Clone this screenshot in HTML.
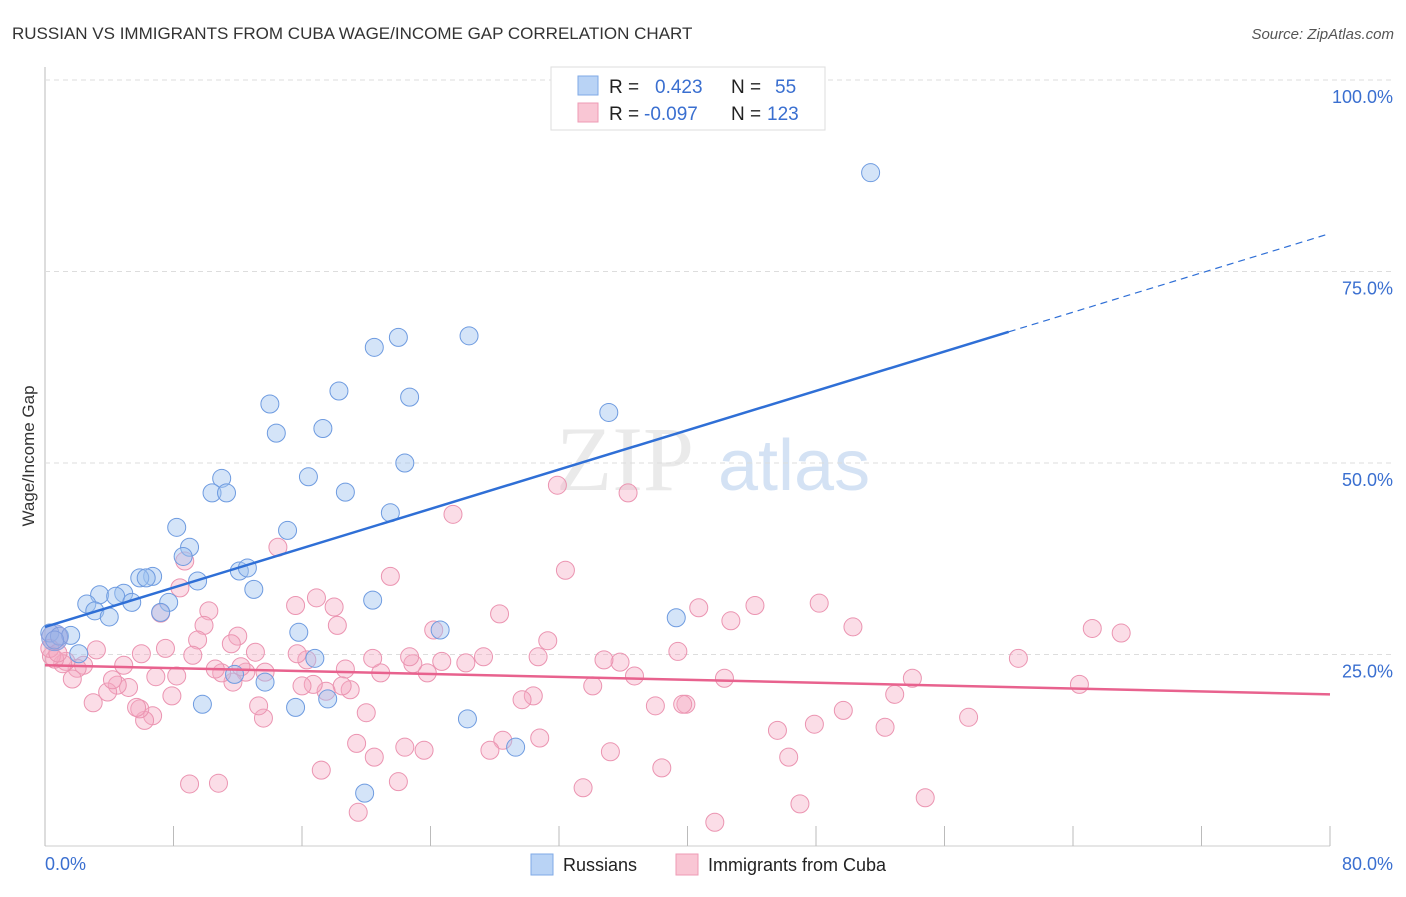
<!DOCTYPE html>
<html><head><meta charset="utf-8"><style>
body{margin:0;background:#fff;font-family:"Liberation Sans",sans-serif;}
</style></head><body>
<svg id="chart" width="1406" height="892" xmlns="http://www.w3.org/2000/svg" font-family="Liberation Sans, sans-serif">
<text x="12" y="39" font-size="17" fill="#333">RUSSIAN VS IMMIGRANTS FROM CUBA WAGE/INCOME GAP CORRELATION CHART</text>
<text x="1394" y="39" font-size="15" fill="#555" font-style="italic" text-anchor="end">Source: ZipAtlas.com</text>
<text x="556" y="490" font-size="92" fill="#ddd" font-family="Liberation Serif, serif" opacity="0.6">ZIP</text>
<text x="718" y="490" font-size="72" fill="#b8d0ee" opacity="0.6">atlas</text>
<g id="grid"></g>
<g id="points"></g>
<g id="lines"></g>
<text transform="translate(34,456) rotate(-90)" font-size="17" fill="#333" text-anchor="middle">Wage/Income Gap</text>
<g>
<rect x="551" y="67" width="274" height="63" fill="#fff" stroke="#ddd"/>
<rect x="578" y="76" width="20" height="19" fill="#b9d3f5" stroke="#7faae6"/>
<rect x="578" y="103" width="20" height="19" fill="#f9c6d4" stroke="#ee9bb5"/>
<text x="609" y="93" font-size="19" fill="#222">R =</text>
<text x="655" y="93" font-size="19" fill="#3a6fd0">0.423</text>
<text x="731" y="93" font-size="19" fill="#222">N =</text>
<text x="775" y="93" font-size="19" fill="#3a6fd0">55</text>
<text x="609" y="120" font-size="19" fill="#222">R =</text>
<text x="644" y="120" font-size="19" fill="#3a6fd0">-0.097</text>
<text x="731" y="120" font-size="19" fill="#222">N =</text>
<text x="767" y="120" font-size="19" fill="#3a6fd0">123</text>
</g>
<g>
<rect x="531" y="854" width="22" height="21" fill="#b9d3f5" stroke="#7faae6"/>
<text x="563" y="871" font-size="18" fill="#222">Russians</text>
<rect x="676" y="854" width="22" height="21" fill="#f9c6d4" stroke="#ee9bb5"/>
<text x="708" y="871" font-size="18" fill="#222">Immigrants from Cuba</text>
</g>
</svg>
<script>
const xTicks=[0,8,16,24,32,40,48,56,64,72,80];
const yTicks=[25,50,75,100];
const yTickLabels=["25.0%","50.0%","75.0%","100.0%"];
const xAxisLabels=["0.0%","80.0%"];
const russX=[51.4,26.4,22.0,20.5,18.3,22.7,14.0,35.1,14.4,17.3,22.4,11.0,16.4,10.4,11.3,18.7,21.5,8.2,15.1,9.0,8.6,12.1,12.6,6.7,5.9,6.3,9.5,13.0,4.9,3.4,4.4,5.4,2.6,7.7,20.4,3.1,4.0,7.2,39.3,0.3,0.9,1.6,0.6,24.6,15.8,2.1,16.8,11.8,13.7,9.8,15.6,17.6,26.3,29.3,19.9];
const russY=[87.9,66.6,66.4,65.1,59.4,58.6,57.7,56.6,53.9,54.5,50.0,48.0,48.2,46.1,46.1,46.2,43.5,41.6,41.2,39.0,37.8,35.9,36.3,35.2,35.0,35.0,34.6,33.5,33.0,32.8,32.6,31.8,31.6,31.8,32.1,30.7,29.9,30.5,29.8,27.8,27.4,27.5,26.9,28.2,27.9,25.1,24.5,22.4,21.4,18.5,18.1,19.2,16.6,12.9,6.9];
const cubaX=[65.2,67.0,64.4,60.6,57.5,54.8,54.0,52.9,52.3,50.3,49.7,48.2,47.9,47.0,46.3,45.6,44.2,42.7,42.3,41.7,40.7,39.9,39.7,39.4,38.4,38.0,36.7,36.3,35.8,34.8,35.2,34.1,33.5,32.4,31.9,31.3,30.8,30.7,30.4,29.7,28.5,28.3,27.7,27.3,26.2,25.4,24.7,24.2,23.8,23.6,22.9,22.7,22.4,22.0,21.5,20.9,20.5,20.4,20.0,19.5,19.4,19.0,18.7,18.5,18.2,18.0,17.5,17.2,16.9,16.7,16.3,16.0,15.7,15.6,14.5,13.7,13.6,13.3,13.1,12.5,12.2,12.0,11.7,11.6,11.0,10.8,10.6,10.2,9.9,9.5,9.2,9.0,8.7,8.4,8.2,7.9,7.5,7.2,6.9,6.7,6.2,5.9,5.7,6.0,5.2,4.9,4.5,3.9,4.2,3.2,3.0,2.4,2.0,1.7,1.3,1.1,0.6,0.4,0.3,0.8];
const cubaY=[28.4,27.8,21.1,24.5,16.8,6.3,21.9,19.8,15.5,28.6,17.7,31.7,15.9,5.5,11.6,15.1,31.4,29.4,21.9,3.1,31.1,18.5,18.5,25.4,10.2,18.3,22.2,46.1,24.0,24.3,12.3,20.9,7.6,36.0,47.1,26.8,14.1,24.7,19.6,19.1,13.8,30.3,12.5,24.7,23.9,43.3,24.1,28.2,22.6,12.5,23.8,24.7,12.9,8.4,35.2,22.6,11.6,24.5,17.4,4.4,13.4,20.4,23.1,20.9,28.8,31.2,20.2,9.9,32.4,21.1,24.3,20.9,25.1,31.4,39.0,22.7,16.7,18.3,25.3,22.7,23.4,27.4,21.4,26.4,22.6,8.2,23.1,30.7,28.8,26.9,24.9,8.1,37.2,33.7,22.2,19.6,25.8,30.4,22.1,17.0,16.4,17.9,18.1,25.1,20.7,23.6,21.0,20.1,21.7,25.6,18.7,23.6,23.2,21.8,24.1,23.8,24.4,24.8,25.8,25.2];
const russTrend=[28.6,0.642];
const cubaTrend=[23.6,-0.0475];
const X0=45,X1=1330,Y0=846,Y100=80;
const sx=v=>X0+(X1-X0)*v/80;
const sy=v=>Y0-(Y0-Y100)*v/100;
const NS="http://www.w3.org/2000/svg";
function mk(tag,attrs,parent){const e=document.createElementNS(NS,tag);for(const k in attrs)e.setAttribute(k,attrs[k]);parent.appendChild(e);return e;}
const grid=document.getElementById('grid');
const pts=document.getElementById('points');
const lines=document.getElementById('lines');
const ax=mk('line',{x1:X0,y1:67,x2:X0,y2:Y0,stroke:'#bbb'},grid);


const bx=mk('line',{x1:X0,y1:Y0,x2:X1,y2:Y0,stroke:'#ccc'},grid);


yTicks.forEach((t,i)=>{
 const g=mk('line',{x1:X0,y1:sy(t),x2:1394,y2:sy(t),stroke:'#ddd','stroke-dasharray':'5,4'},grid);
 
 
 const tx=mk('text',{x:1393,y:sy(t)+23,'font-size':18,fill:'#3a6fd0','text-anchor':'end'},grid);
 tx.textContent=yTickLabels[i];
 
 
});
xTicks.forEach(t=>{
 const l=mk('line',{x1:sx(t),y1:826,x2:sx(t),y2:Y0,stroke:'#bbb'},grid);
 
 
});
const xl0=mk('text',{x:45,y:870,'font-size':18,fill:'#3a6fd0'},grid);
xl0.textContent=xAxisLabels[0];


const xl1=mk('text',{x:1393,y:870,'font-size':18,fill:'#3a6fd0','text-anchor':'end'},grid);
xl1.textContent=xAxisLabels[1];


cubaX.forEach((x,i)=>{
 const c=mk('circle',{cx:sx(x),cy:sy(cubaY[i]),r:9,fill:'rgba(245,170,195,0.4)',stroke:'#eb94b1','stroke-width':1},pts);
 
 
});
russX.forEach((x,i)=>{
 const c=mk('circle',{cx:sx(x),cy:sy(russY[i]),r:9,fill:'rgba(160,195,240,0.45)',stroke:'#6e9be0','stroke-width':1},pts);
 
 
});
const big=mk('circle',{cx:sx(0.6),cy:sy(27.2),r:13,fill:'rgba(150,160,220,0.5)',stroke:'#8fa0dc'},pts);


const rl=mk('line',{x1:sx(0),y1:sy(russTrend[0]),x2:sx(60),y2:sy(russTrend[0]+russTrend[1]*60),stroke:'#2f6fd6','stroke-width':2.5},lines);


const rd=mk('line',{x1:sx(60),y1:sy(russTrend[0]+russTrend[1]*60),x2:sx(80),y2:sy(russTrend[0]+russTrend[1]*80),stroke:'#2f6fd6','stroke-width':1.2,'stroke-dasharray':'7,5'},lines);


const cl=mk('line',{x1:sx(0),y1:sy(cubaTrend[0]),x2:sx(80),y2:sy(cubaTrend[0]+cubaTrend[1]*80),stroke:'#e8628e','stroke-width':2.5},lines);


</script>
</body></html>
